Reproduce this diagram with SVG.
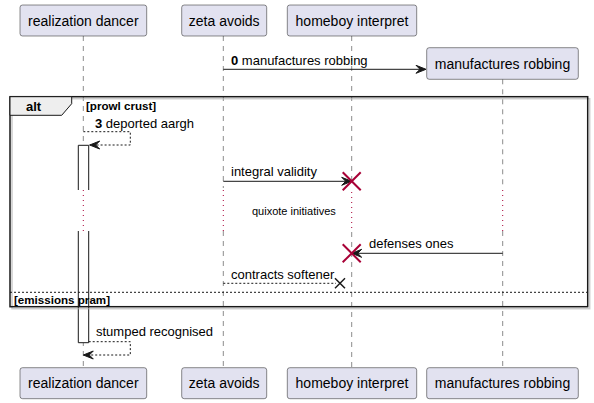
<svg xmlns="http://www.w3.org/2000/svg" width="594" height="403" viewBox="0 0 594 403">
<style>
  .box{fill:#E2E2F0;stroke:#181818;stroke-width:0.5}
  .life{stroke:#181818;stroke-width:0.5;stroke-dasharray:5,5;fill:none}
  .delay{stroke:#A80036;stroke-width:1;stroke-dasharray:1,4;fill:none}
  .pname{font-family:"Liberation Sans",Arial,sans-serif;font-size:14px;fill:#000;text-anchor:middle}
  .msg{font-family:"Liberation Sans",Arial,sans-serif;font-size:13px;fill:#000}
  .b{font-weight:bold}
  .small{font-family:"Liberation Sans",Arial,sans-serif;font-size:11px;fill:#000}
  .guard{font-family:"Liberation Sans",Arial,sans-serif;font-size:11.6px;font-weight:bold;fill:#000}
  .line{stroke:#181818;stroke-width:1;fill:none}
  .dash{stroke:#181818;stroke-width:1;stroke-dasharray:2,2;fill:none}
  .head{fill:#181818;stroke:#181818;stroke-width:1}
  .act{fill:#FFFFFF;stroke:#181818;stroke-width:1}
  .kill{stroke:#A80036;stroke-width:2}
</style>
<rect width="594" height="403" fill="#FFFFFF"/>

<g id="lifelines">
  <line class="life" x1="83.3" y1="36" x2="83.3" y2="189"/>
  <line class="life" x1="83.3" y1="231" x2="83.3" y2="367.7"/>
  <line class="life" x1="223.3" y1="36" x2="223.3" y2="188"/>
  <line class="life" x1="223.3" y1="231" x2="223.3" y2="367.7"/>
  <line class="life" x1="351.7" y1="36" x2="351.7" y2="181"/>
  <line class="life" x1="351.7" y1="232" x2="351.7" y2="367.7"/>
  <line class="life" x1="502.7" y1="79.3" x2="502.7" y2="188"/>
  <line class="life" x1="502.7" y1="231" x2="502.7" y2="367.7"/>
  <line class="delay" x1="83.3" y1="190" x2="83.3" y2="231"/>
  <line class="delay" x1="223.3" y1="190" x2="223.3" y2="231"/>
  <line class="delay" x1="351.7" y1="192" x2="351.7" y2="232"/>
  <line class="delay" x1="502.7" y1="190" x2="502.7" y2="231"/>
</g>

<g id="activation-realization-dancer">
  <rect x="78.3" y="145.3" width="10.4" height="44.7" fill="#FFFFFF" stroke="none"/>
  <polyline class="act" fill="none" points="78.3,190 78.3,145.3 88.7,145.3 88.7,190"/>
  <rect x="78.3" y="231" width="10.4" height="111.7" fill="#FFFFFF" stroke="none"/>
  <polyline class="act" fill="none" points="78.3,231 78.3,342.7 88.7,342.7 88.7,231"/>
</g>

<g id="frame-alt">
  <rect x="12" y="98.7" width="577.7" height="210" fill="none" stroke="#AAAAAA" stroke-width="1.5" opacity="0.6"/>
  <rect x="10" y="96.7" width="577.7" height="210" fill="none" stroke="#181818" stroke-width="1.5"/>
  <polygon points="10,96.7 71.7,96.7 71.7,103.7 61.7,115.3 10,115.3" fill="#EEEEEE" stroke="#181818" stroke-width="1"/>
  <text class="msg b" x="26" y="110.5">alt</text>
  <text class="guard" x="86" y="109.5">[prowl crust]</text>
  <line x1="10" y1="292.3" x2="587.7" y2="292.3" stroke="#181818" stroke-width="1" stroke-dasharray="2,2"/>
  <text class="guard" x="14" y="303.5">[emissions pram]</text>
</g>

<g id="connectors">
  <line class="line" x1="223.3" y1="69.3" x2="425" y2="69.3"/>
  <polygon class="head" points="426,69.3 416,65.3 420,69.3 416,73.3"/>
  <text class="msg" x="231" y="65"><tspan class="b">0</tspan> manufactures robbing</text>

  <polyline class="dash" points="83.3,131.7 130.3,131.7 130.3,145 89.7,145"/>
  <polygon class="head" points="89.7,145 99.7,141 95.7,145 99.7,149"/>
  <text class="msg" x="95" y="127.5"><tspan class="b">3</tspan> deported aargh</text>

  <line class="line" x1="223.3" y1="181.3" x2="350" y2="181.3"/>
  <polygon class="head" points="351.7,181.3 341.7,177.3 345.7,181.3 341.7,185.3"/>
  <text class="msg" x="231" y="176">integral validity</text>

  <text class="small" x="252" y="215">quixote initiatives</text>

  <line class="line" x1="502.7" y1="253.3" x2="353" y2="253.3"/>
  <polygon class="head" points="351.7,253.3 361.7,249.3 357.7,253.3 361.7,257.3"/>
  <text class="msg" x="369" y="248">defenses ones</text>

  <line class="dash" x1="223.3" y1="283.3" x2="336" y2="283.3"/>
  <line x1="335" y1="278.3" x2="345" y2="288.3" stroke="#181818" stroke-width="1.5"/>
  <line x1="335" y1="288.3" x2="345" y2="278.3" stroke="#181818" stroke-width="1.5"/>
  <text class="msg" x="231" y="278.5">contracts softener</text>

  <polyline class="dash" points="88.7,341.7 130.3,341.7 130.3,355 84.3,355"/>
  <polygon class="head" points="83.3,355 93.3,351 89.3,355 93.3,359"/>
  <text class="msg" x="96" y="336">stumped recognised</text>
</g>

<g id="destroy-homeboy-1">
  <line class="kill" x1="342.7" y1="172.3" x2="360.7" y2="190.3"/>
  <line class="kill" x1="342.7" y1="190.3" x2="360.7" y2="172.3"/>
</g>
<g id="destroy-homeboy-2">
  <line class="kill" x1="342.7" y1="244.3" x2="360.7" y2="262.3"/>
  <line class="kill" x1="342.7" y1="262.3" x2="360.7" y2="244.3"/>
</g>

<g id="realization-dancer">
  <rect class="box" x="20" y="5" width="126.7" height="31" rx="2.5"/>
  <text class="pname" x="83.3" y="25.5">realization dancer</text>
  <rect class="box" x="20" y="367.7" width="126.7" height="31" rx="2.5"/>
  <text class="pname" x="83.3" y="388.2">realization dancer</text>
</g>
<g id="zeta-avoids">
  <rect class="box" x="181.7" y="5" width="85" height="31" rx="2.5"/>
  <text class="pname" x="224.2" y="25.5">zeta avoids</text>
  <rect class="box" x="181.7" y="367.7" width="85" height="31" rx="2.5"/>
  <text class="pname" x="224.2" y="388.2">zeta avoids</text>
</g>
<g id="homeboy-interpret">
  <rect class="box" x="287.3" y="5" width="129.4" height="31" rx="2.5"/>
  <text class="pname" x="352" y="25.5">homeboy interpret</text>
  <rect class="box" x="287.3" y="367.7" width="129.4" height="31" rx="2.5"/>
  <text class="pname" x="352" y="388.2">homeboy interpret</text>
</g>
<g id="manufactures-robbing">
  <rect class="box" x="426.7" y="47.7" width="151.6" height="31.6" rx="2.5"/>
  <text class="pname" x="502.5" y="68.5">manufactures robbing</text>
  <rect class="box" x="426.7" y="367.7" width="151.6" height="31" rx="2.5"/>
  <text class="pname" x="502.5" y="388.2">manufactures robbing</text>
</g>
</svg>
